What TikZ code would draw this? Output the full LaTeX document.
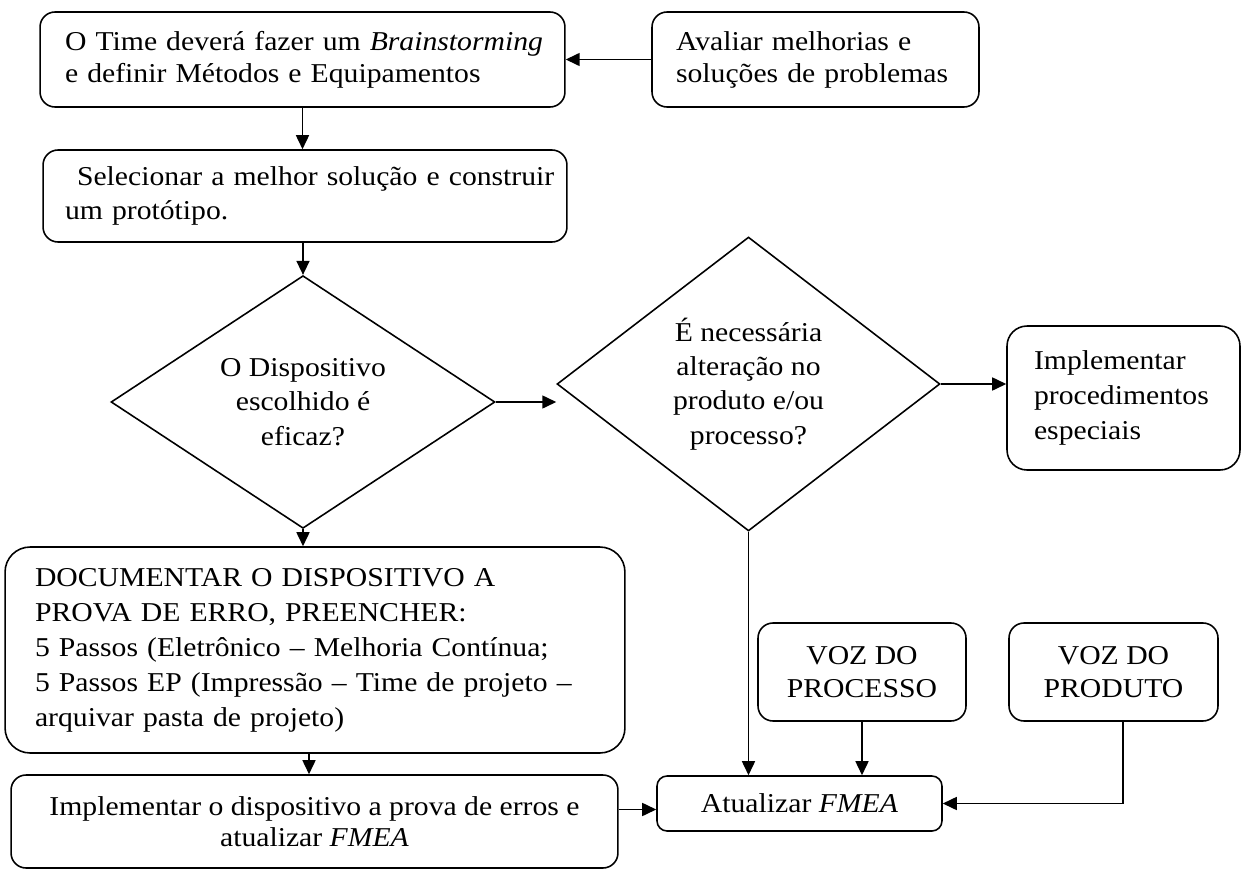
\documentclass[tikz,border=0pt]{standalone}
\usepackage{fontspec}
\setmainfont{Liberation Serif}[FakeStretch=1.09]
\usetikzlibrary{shapes.geometric,arrows.meta}
\newcommand\nb[1]{\mbox{#1}}
\begin{document}
\begin{tikzpicture}[x=0.02cm,y=-0.02cm,
  every node/.style={font=\fontsize{15.5}{19.5}\selectfont},
  box/.style={draw, line width=0.9pt, rounded corners=0.3cm, inner ysep=0pt},
  lbox/.style={box, align=left},
  cbox/.style={box, align=center},
  dia/.style={draw, line width=0.9pt, diamond, inner sep=0pt, align=center},
  arr/.style={line width=0.9pt, -{Triangle[length=0.28cm,width=0.26cm]}}]
\useasboundingbox (0,0) rectangle (1242,869);

\node[lbox, minimum width=10.5cm, minimum height=1.9cm, text width=9.5cm, inner xsep=0.5cm,
  font=\fontsize{15.5}{18.2}\selectfont] (b1) at (302.5,59.5)
  {\nb{O Time deverá fazer um \textit{Brainstorming}}\\\nb{e definir Métodos e Equipamentos}};
\node[lbox, minimum width=6.54cm, minimum height=1.9cm, text width=5.58cm, inner xsep=0.48cm,
  font=\fontsize{15.5}{18.2}\selectfont] (b2) at (815.5,59.5)
  {\nb{Avaliar melhorias e}\\\nb{soluções de problemas}};
\node[lbox, minimum width=10.48cm, minimum height=1.84cm, text width=9.6cm, inner xsep=0.44cm] (b3) at (305,196)
  {\nb{\hspace*{0.24cm}Selecionar a melhor solução e construir}\\\nb{um protótipo.}};

\node[dia, minimum width=7.68cm, minimum height=4.4cm] (d1) at (303,402)
  {O Dispositivo\\escolhido é\\eficaz?};
\node[dia, minimum width=7.66cm, minimum height=5.88cm] (d2) at (748.5,384)
  {É necessária\\alteração no\\produto e/ou\\processo?};

\node[lbox, rounded corners=0.4cm, minimum width=4.66cm, minimum height=2.88cm, text width=3.58cm, inner xsep=0.54cm,
  font=\fontsize{15.5}{19.9}\selectfont] (b4) at (1123.5,398)
  {\nb{Implementar}\\\nb{procedimentos}\\\nb{especiais}};

\node[lbox, rounded corners=0.5cm, minimum width=12.4cm, minimum height=4.12cm, text width=11.2cm, inner xsep=0.6cm,
  font=\fontsize{15.5}{19.9}\selectfont] (b5) at (315,650)
  {\nb{DOCUMENTAR O DISPOSITIVO A}\\\nb{PROVA DE ERRO, PREENCHER:}\\\nb{5 Passos (Eletrônico – Melhoria Contínua;}\\\nb{5 Passos EP (Impressão – Time de projeto –}\\\nb{arquivar pasta de projeto)}};

\node[cbox, minimum width=12.14cm, minimum height=1.86cm, font=\fontsize{15.5}{17.6}\selectfont] (b6) at (314.5,821.5)
  {Implementar o dispositivo a prova de erros e\\atualizar \textit{FMEA}};
\node[cbox, rounded corners=0.2cm, minimum width=5.7cm, minimum height=1.1cm] (b7) at (799.5,803.5)
  {Atualizar \textit{FMEA}};
\node[cbox, minimum width=4.16cm, minimum height=1.96cm, font=\fontsize{15.5}{18.7}\selectfont] (b8) at (862,672)
  {VOZ DO\\PROCESSO};
\node[cbox, minimum width=4.18cm, minimum height=1.96cm, font=\fontsize{15.5}{18.7}\selectfont] (b9) at (1113.5,672)
  {VOZ DO\\PRODUTO};

\draw[arr] (b2.west) -- (b1.east);
\draw[arr] (b1.south) -- (b1.south |- b3.north);
\draw[arr] (d1.north |- b3.south) -- (d1.north);
\draw[arr] (d1.south) -- (d1.south |- b5.north);
\draw[arr] (d1.east) -- (d1.east -| d2.west);
\draw[arr] (d2.east) -- (d2.east -| b4.west);
\draw[arr] (d2.south) -- (d2.south |- b7.north);
\draw[arr] (b8.south) -- (b8.south |- b7.north);
\draw[arr] ([xshift=0.19cm]b9.south) |- (b7.east);
\draw[arr] ([xshift=-0.12cm]b5.south) -- ([xshift=-0.12cm]b5.south |- b6.north);
\draw[arr] ([yshift=-0.12cm]b7.west -| b6.east) -- ([yshift=-0.12cm]b7.west);
\end{tikzpicture}
\end{document}
